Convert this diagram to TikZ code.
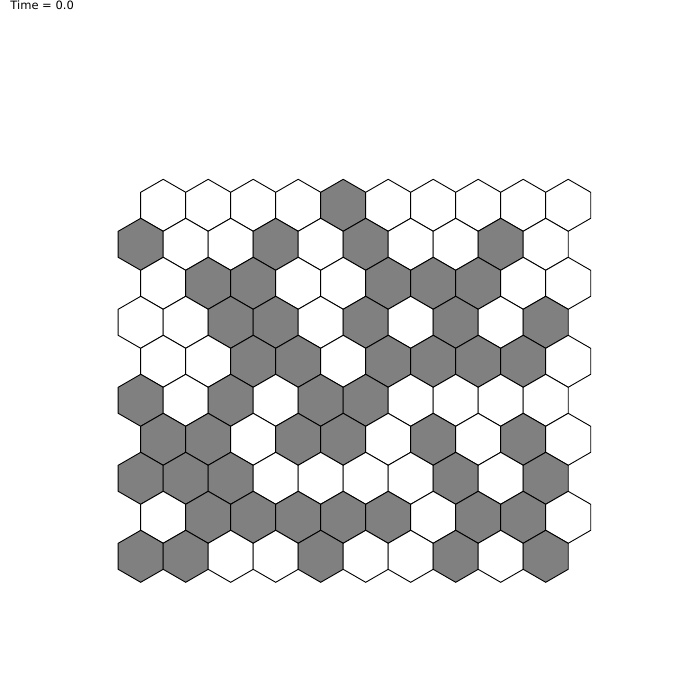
\documentclass[tikz,border=0pt]{standalone}
\usepackage{fontspec}
\setmainfont{DejaVu Sans}
\usepackage{tikz}
\definecolor{cellgray}{RGB}{128,128,128}

\begin{document}
\begin{tikzpicture}[x=1pt,y=-1pt,line width=0.9pt,
    cell0/.style={draw=black,fill=white},
    cell1/.style={draw=black,fill=cellgray}]
    % Page frame
    \useasboundingbox (0,0) rectangle (700,700);
    
    % Time label
    \node[anchor=base west,inner sep=0pt,font=\fontsize{11.5}{13}\selectfont] (timelabel) at (10,9.5) {Time = 0.0};
    
    % Hex cells, one row per entry (0 = white, 1 = gray)
    \foreach \r/\cells in {0/{0,0,0,0,1,0,0,0,0,0},
                           1/{1,0,0,1,0,1,0,0,1,0},
                           2/{0,1,1,0,0,1,1,1,0,0},
                           3/{0,0,1,1,0,1,0,1,0,1},
                           4/{0,0,1,1,0,1,1,1,1,0},
                           5/{1,0,1,0,1,1,0,0,0,0},
                           6/{1,1,0,1,1,0,1,0,1,0},
                           7/{1,1,1,0,0,0,0,1,0,1},
                           8/{0,1,1,1,1,1,0,1,1,0},
                           9/{1,1,0,0,1,0,0,1,0,1}}{
        \foreach \s [count=\c from 0] in \cells{
            \pgfmathsetmacro\cx{140.7+45*\c+22.5*(1-mod(\r,2))}
            \pgfmathsetmacro\cy{205.3+39*\r}
            \draw[cell\s] (\cx,\cy) +(90:26) -- +(30:26) -- +(-30:26)
                -- +(-90:26) -- +(-150:26) -- +(150:26) -- cycle;
        }
    }
\end{tikzpicture}
\end{document}
